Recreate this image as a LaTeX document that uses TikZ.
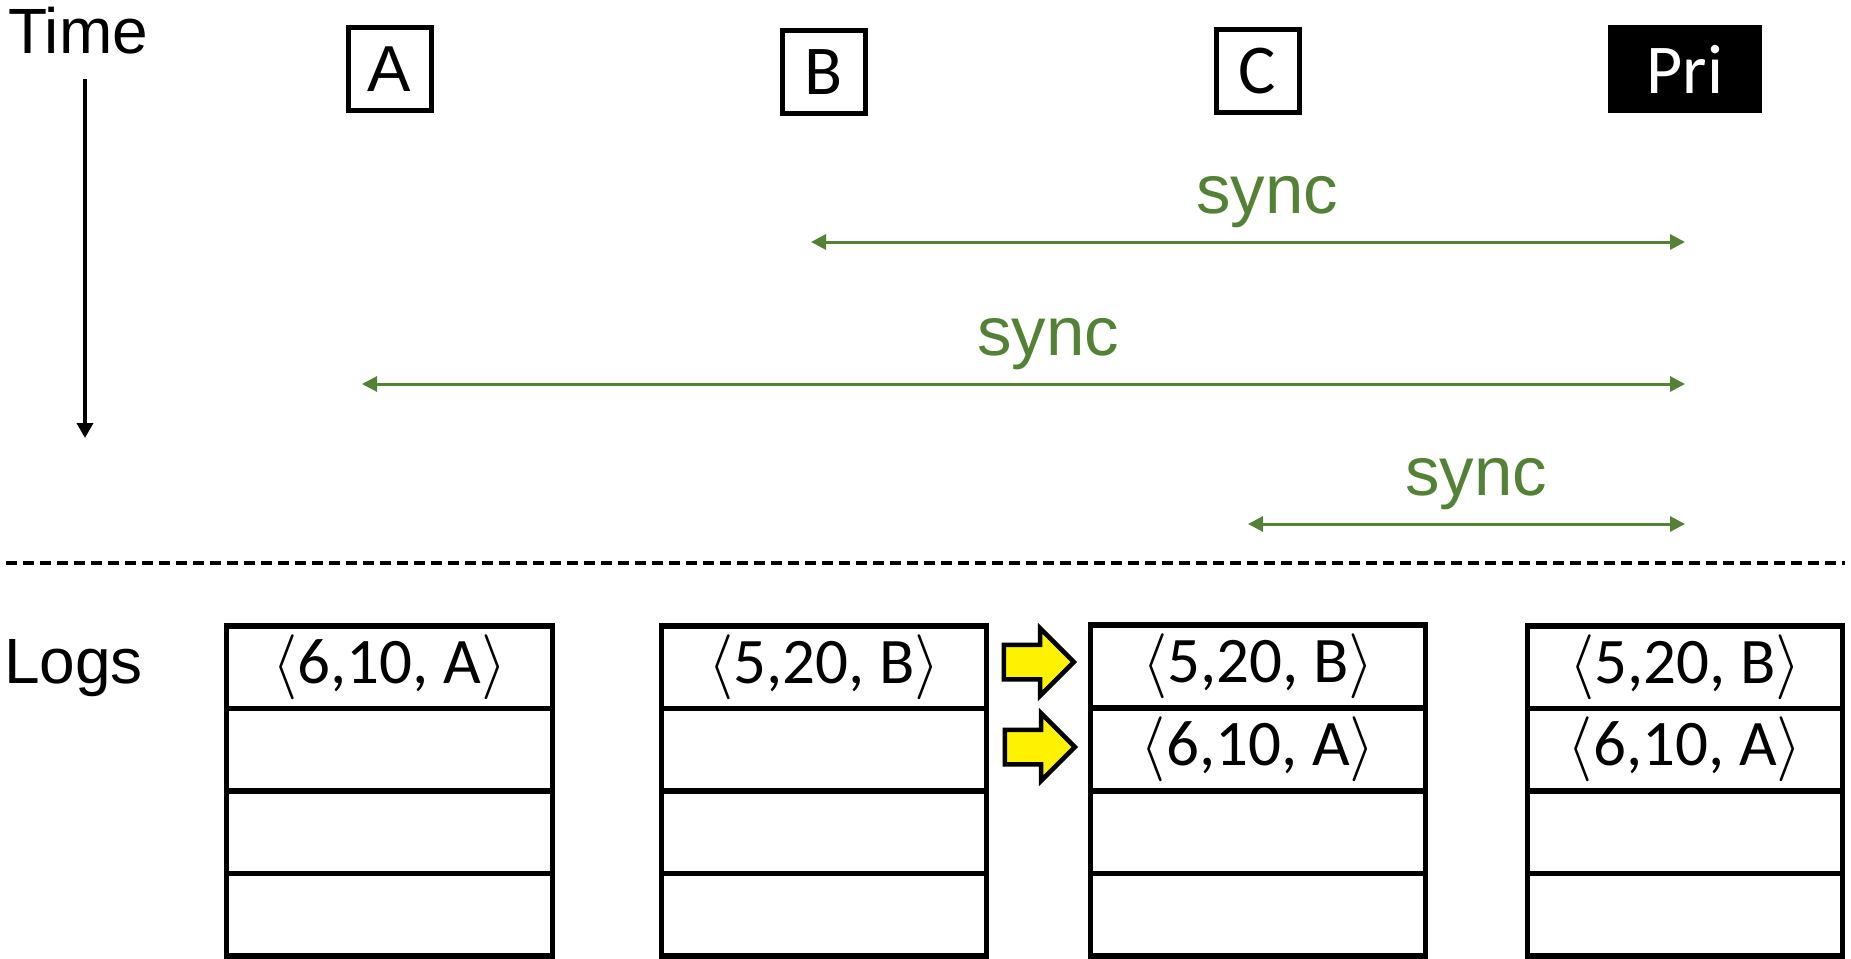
\RequirePackage{fix-cm}
\documentclass[tikz,border=0pt]{standalone}
\usepackage{fontspec}
\setmainfont{Liberation Sans}
\newfontfamily\carl{Carlito}
\usetikzlibrary{arrows.meta,shapes.arrows}
\definecolor{syncgreen}{HTML}{538135}
\begin{document}
\begin{tikzpicture}[x=1pt,y=-1pt,
  lbl/.style={inner sep=0, font=\fontsize{64}{64}\selectfont},
  procbox/.style={draw, line width=5, minimum width=83, minimum height=83, inner sep=0},
  arialtxt/.style={font=\fontsize{65}{65}\selectfont},
  calitxt/.style={font=\carl\fontsize{70}{70}\selectfont},
  prinode/.style={fill=black, minimum width=154, minimum height=88, inner sep=0, text=white, font=\carl\fontsize{70}{70}\selectfont},
  syncarr/.style={draw=syncgreen, line width=3, {Triangle[length=15,width=15]}-{Triangle[length=15,width=15]}},
  synctxt/.style={text=syncgreen, font=\fontsize{69}{69}\selectfont, inner sep=0, anchor=base},
  timearr/.style={line width=3.5, -{Triangle[length=15,width=16]}},
  sepline/.style={line width=4, dash pattern=on 11pt off 6pt},
  logrow/.style={draw, line width=5.5, minimum height=82.5, inner sep=0, font=\carl\fontsize{65}{65}\selectfont},
  yarrow/.style={single arrow, draw=black, fill=yellow, line width=4.5, minimum height=70, inner sep=0, inner ysep=15, single arrow head extend=16.5, single arrow head indent=0, anchor=tip}
]
\useasboundingbox (0,0) rectangle (1851,958);

% labels
\node[lbl, anchor=base west] (time) at (8,53) {Time};
\node[lbl, anchor=base west] (logs) at (4,683) {Logs};

% time arrow
\coordinate (t0) at (85,79);
\coordinate (t1) at (85,438);
\draw[timearr] (t0) -- (t1);

% process boxes
\node[procbox, arialtxt] (A) at (389.5,69) {A};
\node[procbox, calitxt] (B) at (824,72) {B};
\node[procbox, calitxt] (C) at (1257.5,71) {C};
\node[prinode] (pri) at (1685,69) {Pri};

% sync arrows
\coordinate (s1a) at (811,242);  \coordinate (s1b) at (1685,242);
\coordinate (s2a) at (362,384);  \coordinate (s2b) at (1685,384);
\coordinate (s3a) at (1248,524); \coordinate (s3b) at (1685,524);
\draw[syncarr] (s1a) -- (s1b);
\draw[syncarr] (s2a) -- (s2b);
\draw[syncarr] (s3a) -- (s3b);
\node[synctxt] (sy1) at (1267,213) {sync};
\node[synctxt] (sy2) at (1048,355) {sync};
\node[synctxt] (sy3) at (1476,495) {sync};

% separator
\coordinate (d0) at (6,563);
\coordinate (d1) at (1845,563);
\draw[sepline] (d0) -- (d1);

% log column 1 (A)
\node[logrow, minimum width=326] (c1r1) at (389.5,667) {$\langle$6,10, A$\rangle$};
\node[logrow, minimum width=326] (c1r2) at (389.5,749.5) {};
\node[logrow, minimum width=326] (c1r3) at (389.5,832) {};
\node[logrow, minimum width=326] (c1r4) at (389.5,914.5) {};

% log column 2 (B)
\node[logrow, minimum width=325] (c2r1) at (824,667) {$\langle$5,20, B$\rangle$};
\node[logrow, minimum width=325] (c2r2) at (824,749.5) {};
\node[logrow, minimum width=325] (c2r3) at (824,832) {};
\node[logrow, minimum width=325] (c2r4) at (824,914.5) {};

% log column 3 (C)
\node[logrow, minimum width=335] (c3r1) at (1258,666) {$\langle$5,20, B$\rangle$};
\node[logrow, minimum width=335] (c3r2) at (1258,749) {$\langle$6,10, A$\rangle$};
\node[logrow, minimum width=335] (c3r3) at (1258,832) {};
\node[logrow, minimum width=335] (c3r4) at (1258,914.5) {};

% log column 4 (Pri)
\node[logrow, minimum width=315] (c4r1) at (1685,667) {$\langle$5,20, B$\rangle$};
\node[logrow, minimum width=315] (c4r2) at (1685,749.5) {$\langle$6,10, A$\rangle$};
\node[logrow, minimum width=315] (c4r3) at (1685,832) {};
\node[logrow, minimum width=315] (c4r4) at (1685,914.5) {};

% yellow arrows
\node[yarrow] (ya1) at (1077,662) {};
\node[yarrow] (ya2) at (1078,747) {};
\end{tikzpicture}
\end{document}
